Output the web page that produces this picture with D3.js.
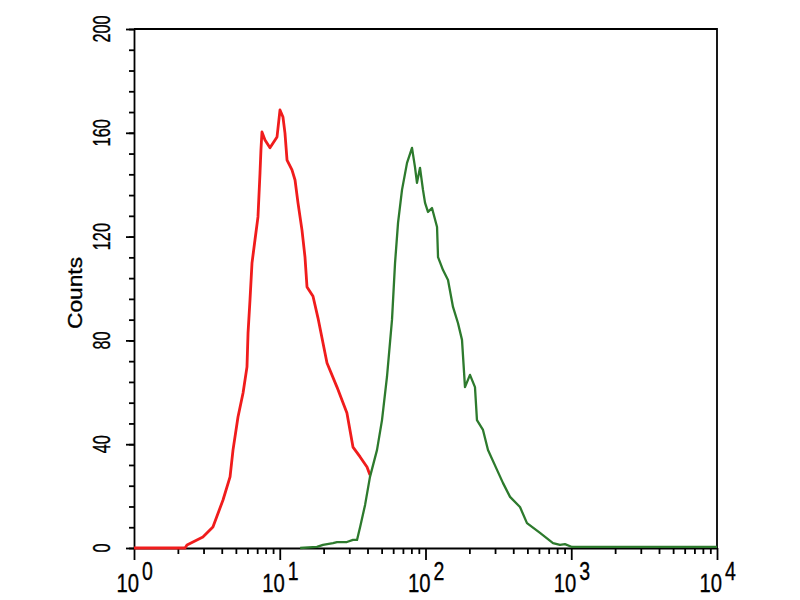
<!DOCTYPE html>
<html>
<head>
<meta charset="utf-8">
<script src="https://cdn.jsdelivr.net/npm/d3@7"></script>
<style>
  html, body { margin: 0; padding: 0; background: #fff; }
  svg { display: block; }
  text { font-family: "Liberation Sans", Arial, Helvetica, sans-serif; fill: #000; stroke: #000; stroke-width: 0.35px; }
</style>
</head>
<body>
<svg id="chart" width="800" height="600"></svg>
<script>
// ---- Data ----
const redX = [1.00, 2.24, 2.31, 2.97, 3.48, 4.08, 4.56, 4.78, 5.17, 5.60, 5.96, 6.06, 6.25, 6.45, 6.76, 7.09, 7.32, 7.43, 7.55, 7.92, 8.57, 9.58, 10.04, 10.52, 10.86, 11.22, 12.13, 12.73, 13.34, 14.21, 14.90, 15.38, 16.91, 18.3, 21.1, 24.7, 28.9, 31.8, 35.6, 39.7, 41.6];
const redY = [0, 0, 1.2, 4.2, 8.1, 18.5, 27.4, 37.8, 50.5, 59.7, 69.8, 82.9, 95.6, 109.8, 118.7, 127.6, 144.5, 153.4, 160.3, 157.2, 154.2, 158.4, 168.8, 166.1, 159.9, 149.5, 145.7, 141.8, 133.0, 122.5, 112.1, 100.6, 97.0, 88.6, 71.3, 62.0, 52.0, 38.9, 35.1, 31.2, 28.1];

const greenX = [13.8, 18.0, 19.8, 23.2, 24.7, 28.9, 31.8, 33.9, 35.6, 38.5, 41.6, 46.5, 50.3, 54.4, 58.9, 61.8, 64.8, 69.0, 74.7, 80.8, 84.7, 87.4, 91.7, 96.1, 99.3, 104.0, 110.8, 120.0, 121.9, 131.9, 142.7, 154.4, 167.0, 178.0, 186.6, 201.9, 218.5, 225.5, 248.0, 268.4, 309.5, 340.5, 380.3, 444.9, 496.9, 610.5, 749.6, 837, 905, 1012, 10000];
const greenY = [0, 0.4, 1.2, 1.9, 2.3, 2.3, 3.1, 3.1, 8.1, 16.6, 27.4, 37.8, 49.3, 65.9, 87.9, 109.8, 125.3, 138.0, 148.4, 154.2, 146.8, 140.7, 146.5, 138.0, 133.0, 129.5, 131.0, 123.7, 112.1, 107.1, 103.3, 92.9, 86.7, 80.2, 62.0, 66.7, 62.0, 49.3, 45.5, 37.8, 30.1, 25.0, 19.7, 15.8, 9.6, 5.8, 1.9, 1.2, 1.5, 0.4, 0.4];

const yMajorTicks = [0, 40, 80, 120, 160, 200];
const yTickLabels = ["0", "40", "80", "120", "160", "200"];
const xMajorTicks = [1, 10, 100, 1000, 10000];
const xTickExponents = ["0", "1", "2", "3", "4"];
const yLabel = "Counts";

// ---- Layout ----
const svg = d3.select("#chart");
const mLeft = 134, mRight = 717, mTop = 29, mBottom = 548;

const x = d3.scaleLog().domain([1, 10000]).range([mLeft, mRight]);
const y = d3.scaleLinear().domain([0, 200]).range([mBottom, mTop]);

// frame (top & right)
svg.append("path")
  .attr("d", `M${mLeft},${mTop}H${mRight}V${mBottom}`)
  .attr("fill", "none").attr("stroke", "#000").attr("stroke-width", 1.8);

// minor ticks
const yMinor = d3.range(0, 201, 8);
svg.append("g").attr("transform", `translate(${mLeft},0)`)
  .call(d3.axisLeft(y).tickValues(yMinor).tickSize(5).tickFormat(""))
  .call(g => g.select(".domain").remove())
  .call(g => g.selectAll("line").attr("stroke-width", 1.8));

const xMinor = [];
for (let e = 0; e < 4; e++) for (let k = 2; k <= 9; k++) xMinor.push(k * Math.pow(10, e));
svg.append("g").attr("transform", `translate(0,${mBottom})`)
  .call(d3.axisBottom(x).tickValues(xMinor).tickSize(6).tickFormat(""))
  .call(g => g.select(".domain").remove())
  .call(g => g.selectAll("line").attr("stroke-width", 1.8));

// major axes
svg.append("g").attr("transform", `translate(${mLeft},0)`)
  .call(d3.axisLeft(y).tickValues(yMajorTicks).tickSize(8).tickSizeOuter(0).tickFormat(""))
  .call(g => g.select(".domain").attr("stroke-width", 1.8))
  .call(g => g.selectAll("line").attr("stroke-width", 1.8));

svg.append("g").attr("transform", `translate(0,${mBottom})`)
  .call(d3.axisBottom(x).tickValues(xMajorTicks).tickSize(12).tickSizeOuter(0).tickFormat(""))
  .call(g => g.select(".domain").attr("stroke-width", 1.8))
  .call(g => g.selectAll("line").attr("stroke-width", 1.8));

// y tick labels (rotated, condensed)
svg.append("g").selectAll("text").data(yMajorTicks).join("text")
  .attr("transform", d => `translate(110,${y(d)}) rotate(-90) scale(0.68,1)`)
  .attr("text-anchor", "middle")
  .attr("font-size", 24)
  .text((d, i) => yTickLabels[i]);

// y axis title
svg.append("text")
  .attr("transform", `translate(82,${293}) rotate(-90)`)
  .attr("text-anchor", "middle")
  .attr("font-size", 20)
  .attr("textLength", 72).attr("lengthAdjust", "spacingAndGlyphs")
  .text(yLabel);

// x tick labels: 10^n
const xl = svg.append("g").selectAll("g").data(xMajorTicks).join("g")
  .attr("transform", d => `translate(${x(d) + 5},592) scale(0.78,1)`);
xl.append("text").attr("text-anchor", "end").attr("font-size", 26).text("10");
xl.append("text").attr("text-anchor", "start").attr("font-size", 25)
  .attr("x", 4).attr("y", -12)
  .text((d, i) => xTickExponents[i]);

// curves
const line = d3.line().x(d => x(d[0])).y(d => y(d[1]));
svg.append("path")
  .datum(redX.map((v, i) => [v, redY[i]]))
  .attr("d", line).attr("fill", "none")
  .attr("stroke", "#f01c1c").attr("stroke-width", 2.8).attr("stroke-linejoin", "round");
svg.append("path")
  .datum(greenX.map((v, i) => [v, greenY[i]]))
  .attr("d", line).attr("fill", "none")
  .attr("stroke", "#2d7a2d").attr("stroke-width", 2.3).attr("stroke-linejoin", "round");
</script>
</body>
</html>
